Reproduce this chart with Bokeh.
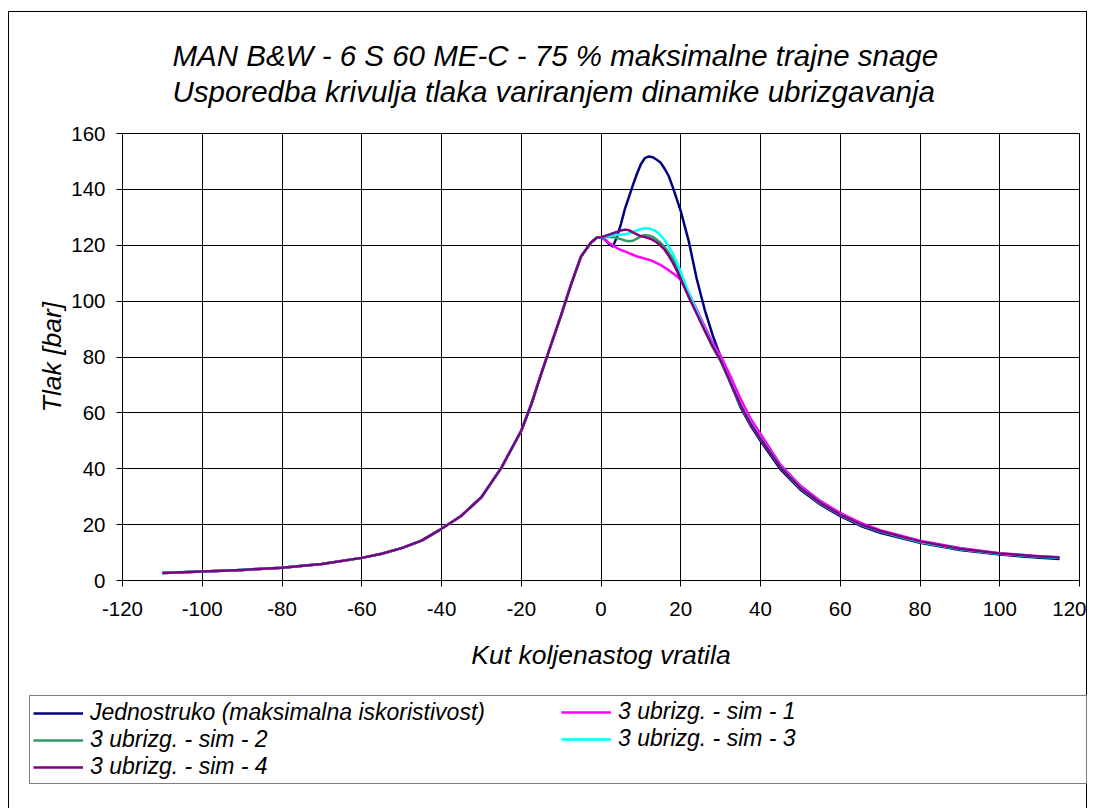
from bokeh.plotting import figure
from bokeh.layouts import column
from bokeh.models import Range1d, FixedTicker, Legend, LegendItem, Title
from bokeh.embed import file_html
from bokeh.resources import INLINE

# ---------------- data ----------------
title_text = ("MAN B&W - 6 S 60 ME-C - 75 % maksimalne trajne snage\n"
              "Usporedba krivulja tlaka variranjem dinamike ubrizgavanja")
x_label = "Kut koljenastog vratila"
y_label = "Tlak [bar]"

series_names = [
    "Jednostruko (maksimalna iskoristivost)",
    "3 ubrizg. - sim - 1",
    "3 ubrizg. - sim - 2",
    "3 ubrizg. - sim - 3",
    "3 ubrizg. - sim - 4",
]
series_colors = ["#000080", "#FF00FF", "#339966", "#00FFFF", "#800080"]

x_ticks = [-120, -100, -80, -60, -40, -20, 0, 20, 40, 60, 80, 100, 120]
x_tick_labels = ["-120", "-100", "-80", "-60", "-40", "-20", "0", "20", "40", "60", "80", "100", "120"]
y_ticks = [0, 20, 40, 60, 80, 100, 120, 140, 160]
y_tick_labels = ["0", "20", "40", "60", "80", "100", "120", "140", "160"]

# compression part (identical for all series)
angle_rise = [-110, -100, -90, -80, -70, -60, -55, -50, -45, -40, -35, -30, -25,
              -20, -17.5, -15, -12.5, -10, -7.5, -5, -2.5, -1]
p_rise = [2.7, 3.2, 3.8, 4.6, 5.9, 8.1, 9.6, 11.6, 14.3, 18.5, 23.2, 29.8, 40.3,
          53.6, 63.0, 74.0, 84.5, 95.0, 106.0, 116.0, 121.0, 122.8]

# combustion / expansion part
angle_after = [0, 1, 2, 3, 4, 5, 6, 7, 8, 9, 10, 11, 12, 13, 14, 15, 16, 17, 18, 19, 20,
               22, 24, 26, 28, 30, 32.5, 35, 37.5, 40, 45, 50, 55, 60, 65, 70,
               80, 90, 100, 110, 115]

p_jednostruko = [122.8, 122.0, 120.5, 119.6, 123.0, 127.6, 133.0, 137.2, 141.5, 145.5, 149.0,
                 151.2, 151.8, 151.5, 150.6, 149.5, 147.3, 144.7, 140.8, 136.5, 132.2,
                 121.5, 108.0, 97.0, 87.8, 80.0, 70.5, 62.0, 55.5, 50.0, 39.8, 32.5, 27.2,
                 23.0, 19.6, 17.1, 13.5, 10.9, 9.3, 8.1, 7.7]
p_sim1 = [122.8, 122.0, 120.8, 120.0, 119.0, 118.3, 117.8, 117.2, 116.6, 116.0, 115.6,
          115.2, 114.8, 114.3, 113.6, 112.9, 112.0, 111.0, 110.0, 109.0, 107.5,
          103.0, 97.0, 91.0, 85.0, 80.5, 73.0, 65.0, 58.0, 52.5, 41.5, 34.0, 28.5,
          24.2, 20.7, 18.0, 14.2, 11.6, 9.8, 8.7, 8.3]
p_sim2 = [122.8, 122.9, 123.0, 122.9, 122.6, 122.2, 121.7, 121.4, 121.6, 122.4, 123.2,
          123.6, 123.5, 123.0, 122.0, 120.8, 119.3, 117.3, 115.2, 112.5, 109.5,
          102.5, 96.0, 89.5, 83.5, 78.5, 70.5, 62.5, 56.0, 50.6, 40.5, 33.0, 27.6,
          23.4, 20.0, 17.5, 13.8, 11.2, 9.6, 8.5, 8.1]
p_sim3 = [122.8, 123.0, 123.3, 123.6, 123.8, 123.8, 123.9, 124.3, 124.8, 125.3, 125.8,
          126.0, 126.0, 125.6, 124.8, 123.5, 121.8, 119.5, 117.0, 114.0, 110.5,
          103.0, 96.5, 90.0, 84.0, 79.0, 71.0, 63.0, 56.5, 51.0, 40.8, 33.3, 27.8,
          23.6, 20.1, 17.6, 13.9, 11.3, 9.6, 8.5, 8.1]
p_sim4 = [122.8, 123.3, 123.8, 124.3, 124.8, 125.3, 125.6, 125.4, 124.6, 123.9, 123.3,
          122.9, 122.5, 121.9, 121.0, 119.8, 118.3, 116.2, 113.8, 111.0, 107.8,
          101.5, 95.5, 89.5, 83.8, 78.8, 70.8, 62.8, 56.2, 50.8, 40.6, 33.2, 27.8,
          23.6, 20.2, 17.7, 14.0, 11.4, 9.7, 8.6, 8.2]

series_values = [p_jednostruko, p_sim1, p_sim2, p_sim3, p_sim4]

FONT = "Liberation Sans"
BORDER = "1px solid #000000"

# ---------------- main figure ----------------
p = figure(
    width=1079, height=678,
    x_range=Range1d(-120, 120), y_range=Range1d(0, 160),
    output_backend="svg", toolbar_location=None,
    min_border_left=113, min_border_right=9,
    min_border_top=120, min_border_bottom=110,
    background_fill_color="white", border_fill_color="white",
    styles={"border-left": BORDER, "border-right": BORDER, "border-top": BORDER,
            "margin-left": "8px", "margin-top": "11px"},
)
p.frame_align = False
p.outline_line_color = "black"
p.outline_line_width = 1

title = Title(text=title_text, align="left", offset=50, standoff=50,
              text_font=FONT, text_font_size="29.5px", text_font_style="italic",
              text_color="black", text_line_height=1.1)
p.add_layout(title, "above")

for ax, ticks, labels in ((p.xaxis[0], x_ticks, x_tick_labels), (p.yaxis[0], y_ticks, y_tick_labels)):
    ax.ticker = FixedTicker(ticks=ticks)
    ax.major_label_overrides = {t: l for t, l in zip(ticks, labels)}
    ax.major_label_text_font = FONT
    ax.major_label_text_font_size = "20.5px"
    ax.major_label_text_color = "black"
    ax.axis_line_color = "black"
    ax.major_tick_line_color = "black"
    ax.major_tick_out = 6
    ax.major_tick_in = 0
    ax.minor_tick_line_color = None
    ax.axis_label_text_font = FONT
    ax.axis_label_text_font_size = "26.5px"
    ax.axis_label_text_font_style = "italic"
    ax.axis_label_text_color = "black"

p.xaxis.axis_label = x_label
p.yaxis.axis_label = y_label
p.xaxis.major_label_standoff = 15
p.xaxis.axis_label_standoff = 21
p.yaxis.major_label_standoff = 11
p.yaxis.axis_label_standoff = 1

p.xgrid.ticker = FixedTicker(ticks=x_ticks)
p.ygrid.ticker = FixedTicker(ticks=y_ticks)
for g in (p.xgrid[0], p.ygrid[0]):
    g.grid_line_color = "black"
    g.grid_line_width = 1

for color, vals in zip(series_colors, series_values):
    p.line(angle_rise + angle_after, p_rise + vals, line_color=color,
           line_width=2.5, line_join="round")

# ---------------- legend strip ----------------
lf = figure(
    width=1079, height=119,
    x_range=Range1d(0, 1), y_range=Range1d(0, 1),
    x_axis_type=None, y_axis_type=None,
    output_backend="svg", toolbar_location=None,
    min_border_left=0, min_border_right=0, min_border_top=0, min_border_bottom=0,
    outline_line_color=None,
    background_fill_color="white", border_fill_color="white",
    styles={"border-left": BORDER, "border-right": BORDER, "margin-left": "8px"},
)
lf.frame_align = False
lf.xgrid.visible = False
lf.ygrid.visible = False

# legend swatches (kept outside the visible range of the strip)
swatches = []
for color in series_colors:
    swatches.append(lf.line(x=[-2, -1], y=[-2, -2], line_color=color, line_width=2.5))

common = dict(
    label_text_font=FONT, label_text_font_size="23px", label_text_font_style="italic",
    label_text_color="black", glyph_width=50, glyph_height=26, label_height=26,
    label_standoff=7, padding=3, spacing=0, margin=0, orientation="vertical",
)
leg1 = Legend(
    items=[LegendItem(label=series_names[i], renderers=[swatches[i]]) for i in (0, 2, 4)],
    location=(20, 24), label_width=993,
    border_line_color="black", border_line_width=1,
    background_fill_color="white", background_fill_alpha=1.0,
    **common,
)
leg2 = Legend(
    items=[LegendItem(label=series_names[i], renderers=[swatches[i]]) for i in (1, 3)],
    location=(552, 56), label_width=100,
    border_line_color=None, background_fill_alpha=0.0,
    **common,
)
lf.add_layout(leg1, "center")
lf.add_layout(leg2, "center")

layout = column(p, lf, spacing=0)
open("out.html", "w").write(file_html(layout, INLINE))
